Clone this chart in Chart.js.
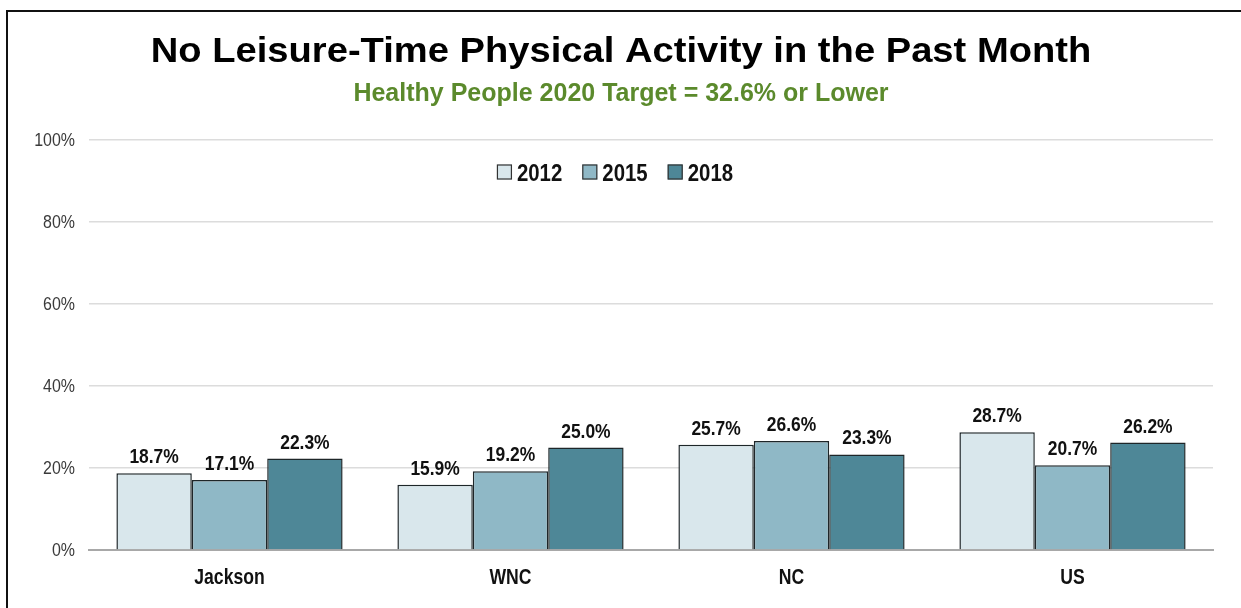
<!DOCTYPE html>
<html>
<head>
<meta charset="utf-8">
<title>No Leisure-Time Physical Activity in the Past Month</title>
<script src="https://cdn.jsdelivr.net/npm/chart.js@4.4.1/dist/chart.umd.min.js"></script>
<style>
  html, body { margin: 0; padding: 0; background: #fff; }
  #wrap { position: relative; width: 1241px; height: 608px; }
</style>
</head>
<body>
<div id="wrap"><canvas id="chart" width="1241" height="608"></canvas></div>
<script>
'use strict';

// Data
const categories = ['Jackson', 'WNC', 'NC', 'US'];
const seriesLabels = ['2012', '2015', '2018'];
const values2012 = [18.7, 15.9, 25.7, 28.7];
const values2015 = [17.1, 19.2, 26.6, 20.7];
const values2018 = [22.3, 25.0, 23.3, 26.2];
const yTicks = [0, 20, 40, 60, 80, 100];

const titleText = 'No Leisure-Time Physical Activity in the Past Month';
const subtitleText = 'Healthy People 2020 Target = 32.6% or Lower';

const fillColors = ['#d9e7ec', '#8fb8c6', '#4e8797'];
const edgeColor = '#1e2629';
const SANS = '"Liberation Sans", Arial, sans-serif';

const seriesValues = [values2012, values2015, values2018];

/**
 * Draw text squeezed (or stretched) horizontally by sx, anchored at x.
 */
function drawText(ctx, text, x, y, font, sx, align, baseline) {
  ctx.save();
  ctx.font = font;
  ctx.textAlign = align || 'center';
  ctx.textBaseline = baseline || 'alphabetic';
  ctx.translate(x, y);
  ctx.scale(sx, 1);
  ctx.fillText(text, 0, 0);
  ctx.restore();
}

// Frame, title, subtitle, axis labels and the in-plot legend
const decorPlugin = {
  id: 'decor',
  afterDraw(chart) {
    const ctx = chart.ctx;
    const mid = 621;
    ctx.save();

    // partial outer frame (left + top edges visible)
    ctx.strokeStyle = '#111';
    ctx.lineWidth = 2;
    ctx.beginPath();
    ctx.moveTo(7, chart.height + 2);
    ctx.lineTo(7, 11);
    ctx.lineTo(chart.width + 2, 11);
    ctx.stroke();

    ctx.fillStyle = '#000';
    drawText(ctx, titleText, mid, 62, 'bold 35px ' + SANS, 1.09);

    ctx.fillStyle = '#5b8a2c';
    drawText(ctx, subtitleText, mid, 101, 'bold 25px ' + SANS, 1.0);

    // y tick labels
    const yScale = chart.scales.y;
    ctx.fillStyle = '#3a3a3a';
    yScale.ticks.forEach(t => {
      drawText(ctx, t.value + '%', 75, yScale.getPixelForValue(t.value) + 1,
        '19px ' + SANS, 0.84, 'right', 'middle');
    });

    // x category labels
    const xScale = chart.scales.x;
    ctx.fillStyle = '#111';
    chart.data.labels.forEach((lab, i) => {
      drawText(ctx, lab, xScale.getPixelForTick(i), 584, 'bold 22px ' + SANS, 0.8);
    });

    // legend
    const legendFont = 'bold 24px ' + SANS;
    const sx = 0.85;
    ctx.font = legendFont;
    const box = 15, gapBox = 5, gapItem = 20;
    const items = chart.data.datasets.map(ds => ({
      label: ds.label,
      color: ds.backgroundColor,
      tw: ctx.measureText(ds.label).width * sx
    }));
    const total = items.reduce((s, it) => s + box + gapBox + it.tw, 0) + gapItem * (items.length - 1);
    let x = 615 - total / 2;
    const y = 172;
    items.forEach(it => {
      ctx.fillStyle = it.color;
      ctx.fillRect(x, y - box / 2, box, box);
      ctx.strokeStyle = '#333';
      ctx.lineWidth = 1.2;
      ctx.strokeRect(x + 0.5, y - box / 2 + 0.5, box - 1, box - 1);
      ctx.fillStyle = '#111';
      drawText(ctx, it.label, x + box + gapBox, 181, legendFont, sx, 'left');
      x += box + gapBox + it.tw + gapItem;
    });
    ctx.restore();
  }
};

// Value labels above each bar
const valueLabelPlugin = {
  id: 'valueLabels',
  afterDatasetsDraw(chart) {
    const ctx = chart.ctx;
    ctx.save();
    ctx.fillStyle = '#111';
    chart.data.datasets.forEach((ds, i) => {
      const meta = chart.getDatasetMeta(i);
      meta.data.forEach((bar, j) => {
        drawText(ctx, ds.data[j].toFixed(1) + '%', bar.x, bar.y - 10,
          'bold 21px ' + SANS, 0.83);
      });
    });
    ctx.restore();
  }
};

const datasets = seriesLabels.map((label, i) => ({
  label,
  data: seriesValues[i],
  backgroundColor: fillColors[i],
  borderColor: edgeColor,
  borderWidth: 1.5,
  borderSkipped: 'bottom',
  categoryPercentage: 0.805,
  barPercentage: 1.0
}));

new Chart(document.getElementById('chart').getContext('2d'), {
  type: 'bar',
  data: { labels: categories, datasets },
  options: {
    responsive: false,
    animation: false,
    layout: { padding: { top: 140, right: 28, bottom: 0, left: 0 } },
    plugins: {
      legend: { display: false },
      title: { display: false },
      tooltip: { enabled: false }
    },
    scales: {
      x: {
        afterFit(scale) { scale.height = 58; },
        grid: { display: false, drawTicks: false },
        border: { display: true, color: '#a8a8a8', width: 2 },
        ticks: { display: false }
      },
      y: {
        min: 0,
        max: 100,
        afterFit(scale) { scale.width = 89; },
        afterBuildTicks(scale) { scale.ticks = yTicks.map(v => ({ value: v })); },
        grid: {
          color: ctx => ctx.tick.value === 0 ? 'rgba(0,0,0,0)' : '#dcdcdc',
          lineWidth: 1.5,
          drawTicks: false
        },
        border: { display: false },
        ticks: { display: false }
      }
    }
  },
  plugins: [valueLabelPlugin, decorPlugin]
});
</script>
</body>
</html>
